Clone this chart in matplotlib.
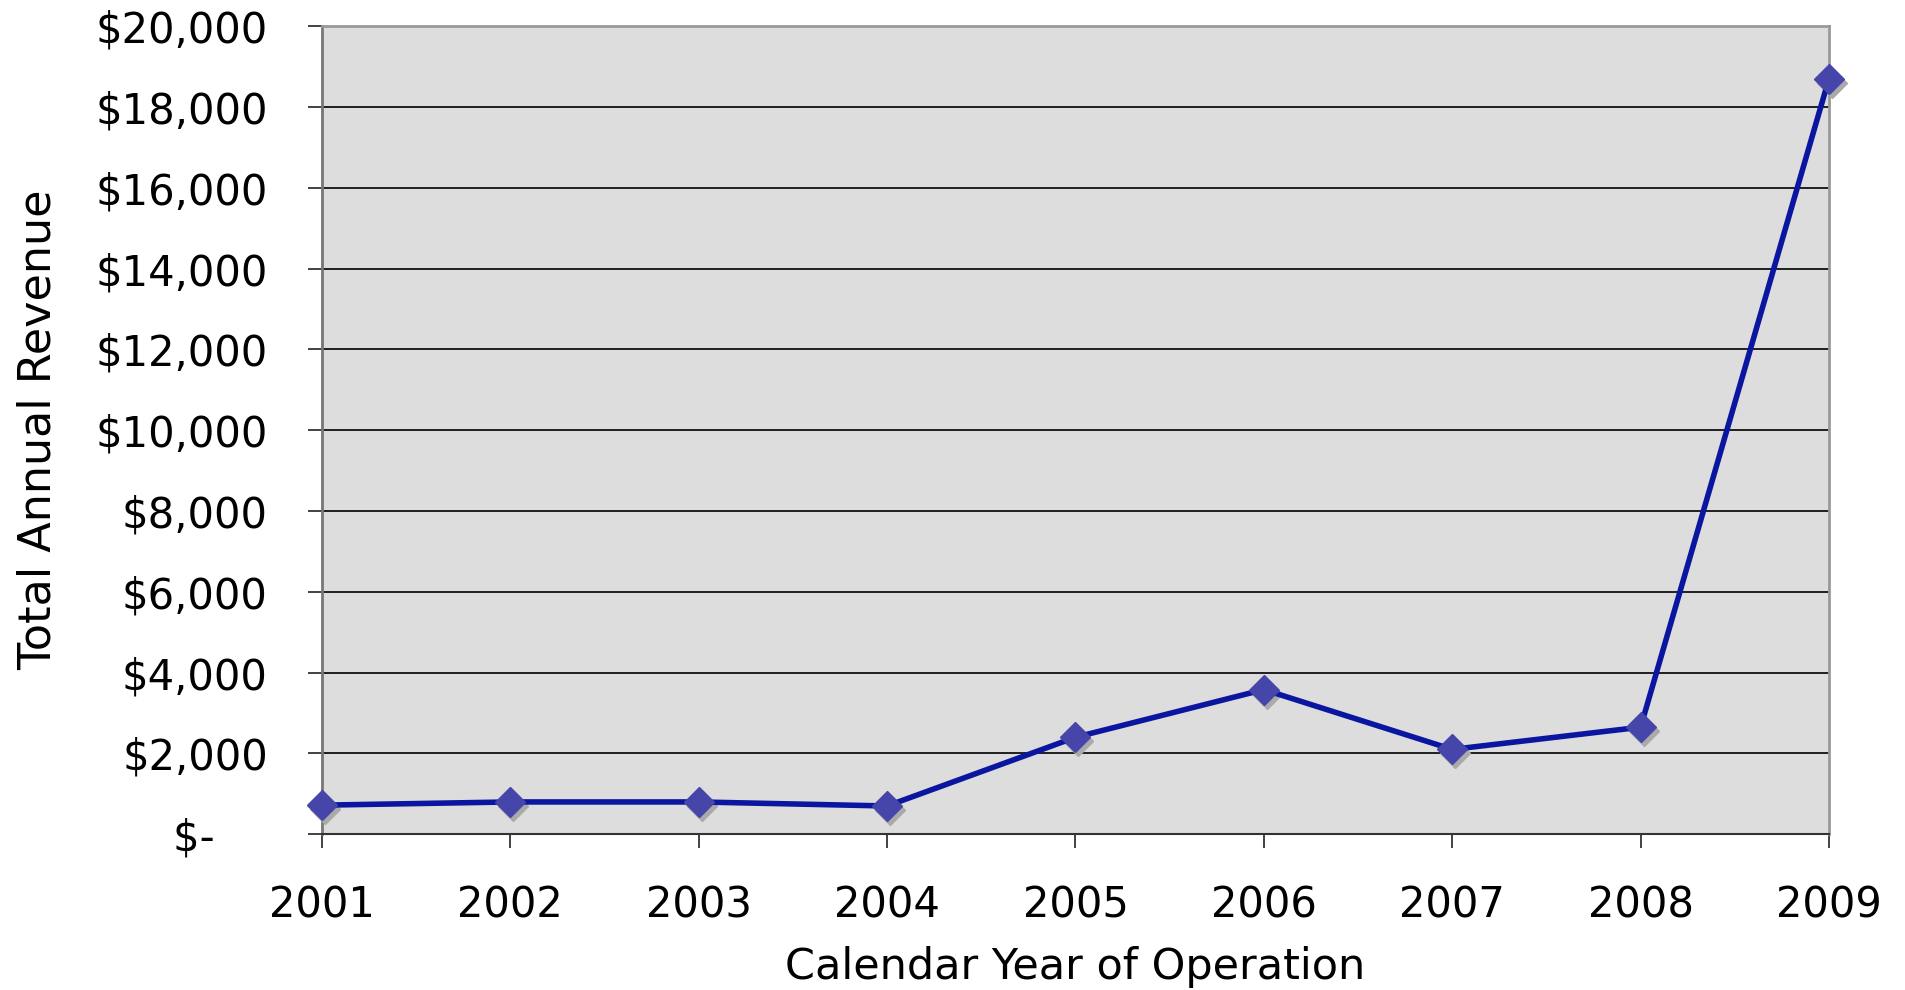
import numpy as np
import matplotlib
matplotlib.use("Agg")
import matplotlib.pyplot as plt
import matplotlib.transforms as mtransforms
from matplotlib.ticker import FuncFormatter

# data
years = [2001, 2002, 2003, 2004, 2005, 2006, 2007, 2008, 2009]
revenue = [720, 800, 800, 700, 2400, 3580, 2100, 2650, 18700]
yticks = np.arange(0, 20001, 2000)

plt.rcParams['font.family'] = ['DejaVu Sans']

fig = plt.figure(figsize=(19.05, 9.9), dpi=100)
ax = fig.add_axes([0.169, 0.1573, 0.7911, 0.8164])
ax.set_facecolor('#DDDDDD')

# shadow under the markers
shadow = mtransforms.offset_copy(ax.transData, fig=fig, x=3, y=-4, units='dots')
ax.plot(years, revenue, linestyle='none', marker='D', markersize=15,
        color='#AAAAAA', transform=shadow, clip_on=False, zorder=3)
ax.plot(years, revenue, color='#0A16A0', linewidth=4.0, zorder=4, clip_on=False)
ax.plot(years, revenue, linestyle='none', marker='D', markersize=15,
        color='#4646AA', zorder=5, clip_on=False)

ax.set_xlim(2001, 2009)
ax.set_ylim(0, 20000)
ax.set_xticks(years)
ax.set_yticks(yticks)

def money(v, pos):
    if v == 0:
        return '$-    '
    return '${:,.0f}'.format(v)

ax.yaxis.set_major_formatter(FuncFormatter(money))
ax.grid(axis='y', color='#111111', linewidth=1.3)
ax.set_axisbelow(True)

for s in ['top', 'right']:
    ax.spines[s].set_color('#999999')
    ax.spines[s].set_linewidth(2)
ax.spines['left'].set_color('#777777')
ax.spines['left'].set_linewidth(2)
ax.spines['bottom'].set_color('#333333')
ax.spines['bottom'].set_linewidth(1.5)

ax.tick_params(axis='both', direction='out', length=10, width=1.2,
               color='#222222', labelsize=30)
ax.tick_params(axis='y', pad=29)
ax.tick_params(axis='x', pad=26)

ax.set_xlabel('Calendar Year of Operation', fontsize=31, labelpad=14)
ax.set_ylabel('Total Annual Revenue', fontsize=32, labelpad=26)

fig.savefig('out.png', dpi=100)
